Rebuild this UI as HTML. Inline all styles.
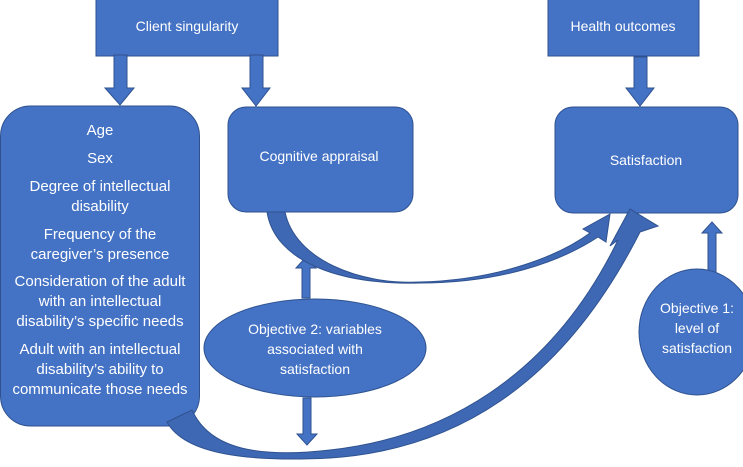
<!DOCTYPE html>
<html><head><style>
body{margin:0;width:743px;height:462px;background:#fff;overflow:hidden;font-family:"Liberation Sans",sans-serif}
</style></head><body>
<svg width="743" height="462" xmlns="http://www.w3.org/2000/svg" font-family="Liberation Sans, sans-serif" font-size="14" fill="#fff">
<g fill="#4472C4" stroke="#2F528F" stroke-width="1">
<rect x="96" y="-1" width="182" height="57"/>
<rect x="548" y="-1" width="151" height="57"/>
<rect x="0.5" y="106" width="199" height="320" rx="30"/>
<rect x="228" y="107" width="185" height="105" rx="18"/>
<rect x="555" y="107" width="183" height="106" rx="18"/>
<polygon points="114,55 127,55 127,88 134,88 120,105 105,88 114,88"/>
<polygon points="250,55 263,55 263,88 270,88 256,106 242,88 250,88"/>
<polygon points="634,57 647,57 647,88 654,88 640,106 626,88 634,88"/>
<polygon points="302,298 310,298 310,268 316,268 306,257 296,268 302,268"/>
<polygon points="708,278 716,278 716,233 722,233 712,222 702,233 708,233"/>
<polygon points="303,398 311,398 311,434 317,434 307,445 297,434 303,434"/>
<path d="M267,212 L285,212 C295,260 360,285 420,282 C500,280 560,255 590,233 L583,229 L610,214 L606,242 L598,237 C560,262 500,283 420,283 C340,285 275,262 267,212 Z" fill="#3F68B4"/>
<path d="M167,422 L192,410 C210,450 260,458 330,450 C440,438 550,380 618,240 L610,246 L630,209 L658,226 L640,232 C560,390 450,450 330,458 C250,462 185,455 167,422 Z" fill="#3F68B4"/>
<ellipse cx="315" cy="348" rx="111" ry="49"/>
<ellipse cx="697" cy="332" rx="58" ry="63"/>
</g>
<g text-anchor="middle">
<text x="187" y="31">Client singularity</text>
<text x="623" y="31">Health outcomes</text>
<g font-size="15">
<text x="100" y="135">Age</text>
<text x="100" y="163">Sex</text>
<text x="100" y="191">Degree of intellectual</text>
<text x="100" y="211">disability</text>
<text x="100" y="239">Frequency of the</text>
<text x="100" y="259">caregiver’s presence</text>
<text x="100" y="286">Consideration of the adult</text>
<text x="100" y="306">with an intellectual</text>
<text x="100" y="326">disability’s specific needs</text>
<text x="100" y="354">Adult with an intellectual</text>
<text x="100" y="374">disability’s ability to</text>
<text x="100" y="394">communicate those needs</text>
</g>
<text x="319" y="161">Cognitive appraisal</text>
<text x="646" y="165">Satisfaction</text>
<text x="315" y="334">Objective 2: variables</text>
<text x="315" y="354">associated with</text>
<text x="315" y="374">satisfaction</text>
<text x="697" y="313">Objective 1:</text>
<text x="697" y="333">level of</text>
<text x="697" y="353">satisfaction</text>
</g>
</svg>
</body></html>
